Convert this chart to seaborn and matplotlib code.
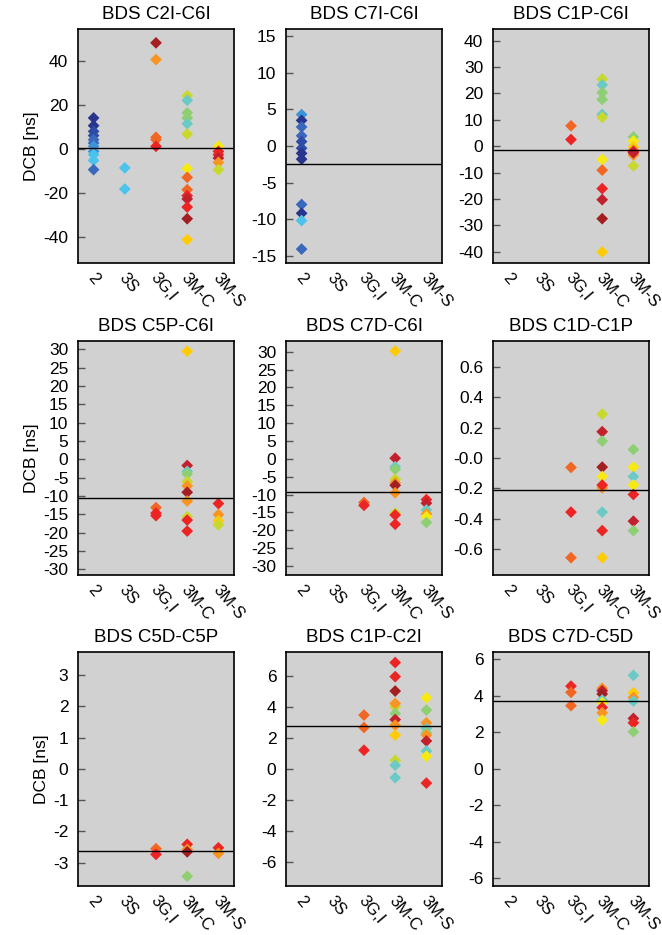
import numpy as np
import pandas as pd
import matplotlib
matplotlib.use("Agg")
import matplotlib.pyplot as plt
import matplotlib.transforms as mtransforms
import seaborn as sns

sns.set_theme(style="white")
plt.rcParams['font.family'] = ['Liberation Sans', 'DejaVu Sans']
plt.rcParams['axes.unicode_minus'] = False
plt.rcParams['text.color'] = 'black'
plt.rcParams['axes.labelcolor'] = 'black'
plt.rcParams['xtick.color'] = 'black'
plt.rcParams['ytick.color'] = 'black'

categories = ['2', '3S', '3G,I', '3M-C', '3M-S']

palette = {
    'navy': '#27358f', 'blue': '#2e4ca6', 'mblue': '#3a68bd', 'lblue': '#3d94d8',
    'sky': '#4cc3ec', 'teal': '#6ccac6', 'green': '#8fcf74', 'ygreen': '#c9d82c',
    'yellow': '#f6ea12', 'gold': '#ffcb05', 'orange': '#f99322', 'dorange': '#f26624',
    'red': '#ec2424', 'crimson': '#c3202e', 'dred': '#a31f22',
}

titles = ['BDS C2I-C6I', 'BDS C7I-C6I', 'BDS C1P-C6I',
          'BDS C5P-C6I', 'BDS C7D-C6I', 'BDS C1D-C1P',
          'BDS C5D-C5P', 'BDS C1P-C2I', 'BDS C7D-C5D']

# ---- Panel 1: C2I-C6I
p1_cat = ['2'] * 11 + ['3S'] * 2 + ['3G,I'] * 5 + ['3M-C'] * 14 + ['3M-S'] * 6
p1_val = [14.1, 10.6, 8.0, 6.1, 4.2, 2.7, 1.2, -1.1, -2.6, -5.2, -9.4,
          -8.6, -18.2,
          48.2, 40.6, 5.3, 4.2, 1.2,
          24.2, 22.1, 16.4, 14.1, 11.5, 6.8, -8.9, -12.9, -18.5, -21.2, -22.7, -26.4, -31.7, -41.2,
          1.2, -1.1, -2.6, -4.1, -6.1, -9.4]
p1_col = ['navy', 'navy', 'blue', 'blue', 'mblue', 'mblue', 'lblue', 'lblue', 'sky', 'sky', 'mblue',
          'sky', 'sky',
          'dred', 'orange', 'dorange', 'dorange', 'red',
          'ygreen', 'teal', 'green', 'green', 'teal', 'ygreen', 'yellow', 'dorange', 'dorange', 'red',
          'crimson', 'red', 'dred', 'gold',
          'yellow', 'red', 'red', 'crimson', 'orange', 'ygreen']
p1_mean = 0.45

# ---- Panel 2: C7I-C6I
p2_cat = ['2'] * 12
p2_val = [4.3, 3.5, 2.6, 1.4, 0.6, -0.3, -1.0, -1.8, -8.0, -9.2, -10.2, -14.1]
p2_col = ['lblue', 'navy', 'mblue', 'mblue', 'blue', 'blue', 'navy', 'navy', 'mblue', 'navy', 'sky', 'mblue']
p2_mean = -2.45

# ---- Panel 3: C1P-C6I
p3_cat = ['3G,I'] * 2 + ['3M-C'] * 12 + ['3M-S'] * 8
p3_val = [7.7, 2.5,
          25.4, 23.2, 20.3, 17.7, 12.0, 10.9, -5.1, -9.1, -16.1, -20.3, -27.5, -40.1,
          3.5, 1.9, -0.3, -1.5, -3.4, -2.0, -2.5, -7.5]
p3_col = ['dorange', 'red',
          'ygreen', 'teal', 'green', 'green', 'teal', 'ygreen', 'yellow', 'dorange', 'red', 'crimson', 'dred', 'gold',
          'green', 'yellow', 'gold', 'orange', 'orange', 'red', 'crimson', 'ygreen']
p3_mean = -1.6

# ---- Panel 4: C5P-C6I
p4_cat = ['3G,I'] * 3 + ['3M-C'] * 11 + ['3M-S'] * 4
p4_val = [-13.2, -14.7, -15.4,
          29.5, -1.7, -3.3, -4.0, -6.1, -7.3, -9.0, -11.4, -15.7, -16.6, -19.6,
          -12.1, -15.1, -16.8, -17.9]
p4_col = ['dorange', 'red', 'red',
          'gold', 'crimson', 'teal', 'green', 'ygreen', 'orange', 'dred', 'orange', 'ygreen', 'red', 'red',
          'red', 'orange', 'gold', 'ygreen']
p4_mean = -10.5

# ---- Panel 5: C7D-C6I
p5_cat = ['3G,I'] * 2 + ['3M-C'] * 11 + ['3M-S'] * 6
p5_val = [-12.2, -13.0,
          30.2, 0.2, -2.2, -2.9, -5.7, -6.7, -7.4, -9.5, -15.2, -15.7, -18.3,
          -11.4, -12.4, -14.3, -15.4, -16.2, -17.8]
p5_col = ['dorange', 'red',
          'gold', 'crimson', 'teal', 'green', 'ygreen', 'orange', 'dred', 'orange', 'ygreen', 'red', 'red',
          'red', 'crimson', 'teal', 'orange', 'yellow', 'green']
p5_mean = -9.2

# ---- Panel 6: C1D-C1P
p6_cat = ['3G,I'] * 3 + ['3M-C'] * 10 + ['3M-S'] * 7
p6_val = [-0.062, -0.356, -0.656,
          0.289, 0.173, 0.111, -0.06, -0.122, -0.196, -0.178, -0.356, -0.478, -0.656,
          0.056, -0.06, -0.122, -0.178, -0.24, -0.416, -0.478]
p6_col = ['dorange', 'red', 'dorange',
          'ygreen', 'crimson', 'green', 'dred', 'yellow', 'orange', 'red', 'teal', 'red', 'gold',
          'green', 'yellow', 'teal', 'yellow', 'red', 'crimson', 'green']
p6_mean = -0.209

# ---- Panel 7: C5D-C5P
p7_cat = ['3G,I'] * 2 + ['3M-C'] * 4 + ['3M-S'] * 2
p7_val = [-2.55, -2.73,
          -2.41, -2.57, -2.65, -3.43,
          -2.52, -2.70]
p7_col = ['dorange', 'red',
          'red', 'orange', 'dred', 'green',
          'red', 'orange']
p7_mean = -2.61

# ---- Panel 8: C1P-C2I
p8_cat = ['3G,I'] * 3 + ['3M-C'] * 12 + ['3M-S'] * 10
p8_val = [3.46, 2.66, 1.19,
          6.85, 5.94, 5.01, 4.0, 4.21, 3.56, 3.17, 2.81, 2.16, 0.54, 0.22, -0.58,
          4.58, 3.78, 2.96, 2.59, 2.31, 2.16, 1.79, 1.14, 0.80, -0.93]
p8_col = ['dorange', 'dorange', 'red',
          'red', 'red', 'dred', 'ygreen', 'orange', 'green', 'crimson', 'orange', 'gold', 'ygreen', 'teal', 'teal',
          'yellow', 'green', 'orange', 'teal', 'green', 'orange', 'crimson', 'teal', 'yellow', 'red']
p8_mean = 2.73

# ---- Panel 9: C7D-C5D
p9_cat = ['3G,I'] * 3 + ['3M-C'] * 8 + ['3M-S'] * 7
p9_val = [4.53, 4.19, 3.46,
          4.41, 4.28, 4.10, 3.77, 3.62, 3.36, 3.07, 2.67,
          5.12, 4.17, 3.91, 3.71, 2.76, 2.52, 2.03]
p9_col = ['red', 'dorange', 'dorange',
          'orange', 'crimson', 'dred', 'teal', 'yellow', 'red', 'orange', 'yellow',
          'teal', 'gold', 'orange', 'teal', 'crimson', 'red', 'green']
p9_mean = 3.69

ylims = [(-51.8, 54.5), (-16.0, 16.0), (-44.3, 44.4),
         (-31.6, 32.3), (-32.5, 33.0), (-0.77, 0.77),
         (-3.74, 3.73), (-7.57, 7.53), (-6.42, 6.40)]
yticks = [[-40, -20, 0, 20, 40], [-15, -10, -5, 0, 5, 10, 15],
          [-40, -30, -20, -10, 0, 10, 20, 30, 40],
          list(range(-30, 31, 5)), list(range(-30, 31, 5)),
          [-0.6, -0.4, -0.2, 0.0, 0.2, 0.4, 0.6],
          [-3, -2, -1, 0, 1, 2, 3], [-6, -4, -2, 0, 2, 4, 6], [-6, -4, -2, 0, 2, 4, 6]]
p6_ticklabels = ['-0.6', '-0.4', '-0.2', '-0.0', '0.2', '0.4', '0.6']

panels = [(p1_cat, p1_val, p1_col, p1_mean), (p2_cat, p2_val, p2_col, p2_mean),
          (p3_cat, p3_val, p3_col, p3_mean), (p4_cat, p4_val, p4_col, p4_mean),
          (p5_cat, p5_val, p5_col, p5_mean), (p6_cat, p6_val, p6_col, p6_mean),
          (p7_cat, p7_val, p7_col, p7_mean), (p8_cat, p8_val, p8_col, p8_mean),
          (p9_cat, p9_val, p9_col, p9_mean)]

W, H = 662, 935
fig = plt.figure(figsize=(W / 100, H / 100), dpi=100)
col_left = [78, 286, 493]
row_top = [29, 341, 652]
aw, ah = 156, 234

for i, (cats, vals, cols, mean) in enumerate(panels):
    r, c = divmod(i, 3)
    ax = fig.add_axes([col_left[c] / W, 1 - (row_top[r] + ah) / H, aw / W, ah / H])
    ax.set_facecolor('#d1d1d1')
    df = pd.DataFrame({'cat': cats, 'val': vals, 'col': cols})
    sns.stripplot(data=df, x='cat', y='val', hue='col', palette=palette, order=categories,
                  jitter=False, dodge=False, marker='D', size=6.0, linewidth=0,
                  legend=False, ax=ax, zorder=3)
    ax.axhline(mean, color='black', lw=1.0, zorder=4)
    ax.set_xlim(-0.5, 4.5)
    ax.set_ylim(*ylims[i])
    ax.set_yticks(yticks[i])
    if i == 5:
        ax.set_yticklabels(p6_ticklabels)
    else:
        ax.set_yticklabels([f"{t:g}" for t in yticks[i]])
    ax.tick_params(axis='y', direction='in', length=5, width=1, color='#555555',
                   labelcolor='black', labelsize=12.5, pad=7, left=True)
    ax.tick_params(axis='x', length=0)
    ax.set_xticks(range(len(categories)))
    ax.set_xticklabels([])
    # rotated category labels placed at each category position, slightly left of center
    off = mtransforms.ScaledTranslation(-3 / 100, -12 / 100, fig.dpi_scale_trans)
    for k, lab in enumerate(categories):
        ax.text(k, 0, lab, transform=ax.get_xaxis_transform() + off,
                rotation=-50, rotation_mode='anchor', ha='left', va='center',
                fontsize=12, color='black', clip_on=False)
    ax.set_xlabel('')
    if c == 0:
        ax.set_ylabel('DCB [ns]', fontsize=12.5, labelpad=3, color='black')
    else:
        ax.set_ylabel('')
    ax.set_title(titles[i], fontsize=13.5, pad=7, color='black')
    for sp in ax.spines.values():
        sp.set_visible(True)
        sp.set_color('black')
        sp.set_linewidth(1.2)

fig.savefig('out.png', dpi=100)
